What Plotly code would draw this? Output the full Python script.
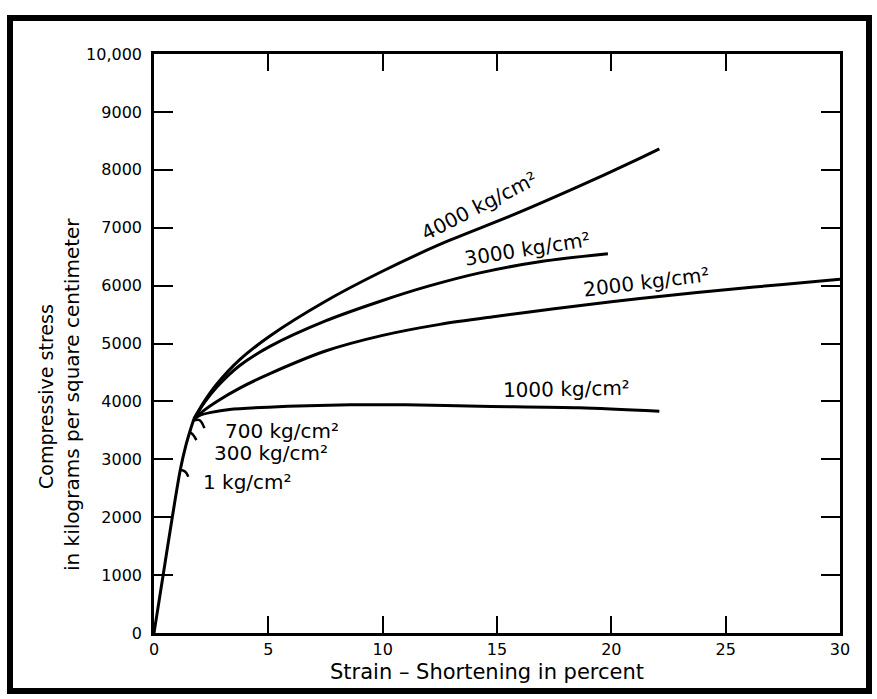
import plotly.graph_objects as go

# ---------------- data ----------------
# common elastic part (strain %, stress kg/cm2)
elastic_x = [0, 0.4, 0.8, 1.15, 1.4, 1.6, 1.75]
elastic_y = [0, 1000, 2000, 2820, 3250, 3520, 3700]

c4000_x = [1.75, 2.2, 2.75, 3.75, 5.07, 7.5, 9.9, 12.5, 15.7, 18.5, 21.1, 22.1]
c4000_y = [3700, 4000, 4300, 4720, 5130, 5730, 6230, 6710, 7220, 7700, 8170, 8360]

c3000_x = [1.75, 2.2, 2.75, 3.75, 5.07, 7.5, 9.9, 12.0, 14.25, 17.0, 19.85]
c3000_y = [3700, 3980, 4250, 4620, 4950, 5390, 5730, 5990, 6220, 6420, 6550]

c2000_x = [1.75, 2.2, 2.75, 3.75, 5.07, 7.5, 10.0, 12.5, 15.0, 17.5, 20.0, 22.5, 25.0, 27.5, 30.0]
c2000_y = [3700, 3850, 4000, 4230, 4480, 4870, 5140, 5330, 5470, 5600, 5720, 5830, 5930, 6020, 6110]

c1000_x = [1.75, 2.0, 2.5, 3.3, 5.0, 8.6, 11.0, 14.25, 18.6, 22.1]
c1000_y = [3700, 3760, 3810, 3860, 3900, 3940, 3940, 3915, 3890, 3830]

# failure points of the low-pressure tests (1, 300, 700 kg/cm2)
fail_x = [1.15, 1.55, 1.68]
fail_y = [2820, 3470, 3660]

curve_labels = ["4000 kg/cm²", "3000 kg/cm²", "2000 kg/cm²", "1000 kg/cm²",
                "700 kg/cm²", "300 kg/cm²", "1 kg/cm²"]

x_ticks = [0, 5, 10, 15, 20, 25, 30]
y_ticks = [0, 1000, 2000, 3000, 4000, 5000, 6000, 7000, 8000, 9000, 10000]
y_tick_text = ["0", "1000", "2000", "3000", "4000", "5000", "6000", "7000",
               "8000", "9000", "10,000"]

x_title = "Strain – Shortening in percent"
y_title_1 = "Compressive stress"
y_title_2 = "in kilograms per square centimeter"

# ---------------- layout geometry ----------------
W, H = 877, 699
L, R, T, B = 154, 37, 54, 66
PW, PH = W - L - R, H - T - B
FONT = "DejaVu Sans"


def px(xpix):
    return (xpix - L) / PW


def py(ypix):
    return (H - B - ypix) / PH


fig = go.Figure()
line_style = dict(color="black", width=3, shape="spline", smoothing=0.8)
for xs, ys in [(elastic_x, elastic_y), (c4000_x, c4000_y), (c3000_x, c3000_y),
               (c2000_x, c2000_y), (c1000_x, c1000_y)]:
    fig.add_trace(go.Scatter(x=xs, y=ys, mode="lines", line=line_style,
                             hoverinfo="skip", showlegend=False))

# small arc marks at the failure points
xscale = 30 / PW
yscale = 10000 / PH
arc_offsets = [[(0, 0), (5, -2), (8, -7)],
               [(0, 0), (3, -2), (7, -8)],
               [(0, 0), (7, 1), (12, -7)]]
for fx, fy, offs in zip(fail_x, fail_y, arc_offsets):
    fig.add_trace(go.Scatter(
        x=[fx + dx * xscale for dx, dy in offs],
        y=[fy + dy * yscale for dx, dy in offs],
        mode="lines", line=dict(color="black", width=2.5, shape="spline"),
        hoverinfo="skip", showlegend=False))

# curve labels: (center px x, center px y, angle)
label_pos = [(479, 206, -27), (527, 249, -9), (646, 282, -7), (566, 389, -1),
             (282, 431, 0), (271, 453, 0), (247, 482, 0)]
for text, (cx, cy, ang) in zip(curve_labels, label_pos):
    fig.add_annotation(x=px(cx), y=py(cy), xref="paper", yref="paper",
                       xanchor="center", yanchor="middle",
                       text=text, showarrow=False, textangle=ang,
                       font=dict(family=FONT, size=20, color="black"))

# axis titles
fig.add_annotation(x=px(487), y=py(672), xref="paper", yref="paper",
                   xanchor="center", yanchor="middle",
                   text=x_title, showarrow=False,
                   font=dict(family=FONT, size=21, color="black"))
fig.add_annotation(x=px(46), y=py(396), xref="paper", yref="paper",
                   xanchor="center", yanchor="middle",
                   text=y_title_1, showarrow=False, textangle=-90,
                   font=dict(family=FONT, size=19, color="black"))
fig.add_annotation(x=px(72), y=py(395), xref="paper", yref="paper",
                   xanchor="center", yanchor="middle",
                   text=y_title_2, showarrow=False, textangle=-90,
                   font=dict(family=FONT, size=20, color="black"))

# outer black frame
fig.add_shape(type="rect", xref="paper", yref="paper",
              x0=px(10), x1=px(869), y0=py(691), y1=py(18),
              line=dict(color="black", width=6), layer="above")

axis_common = dict(showline=True, linecolor="black", linewidth=2.5,
                   mirror="allticks", ticks="inside", tickcolor="black",
                   tickwidth=1.5, showgrid=False, zeroline=False,
                   tickfont=dict(family=FONT, size=16, color="black"))

fig.update_xaxes(range=[0, 30], tickvals=x_ticks, ticklen=17,
                 ticklabelstandoff=0, **axis_common)
fig.update_yaxes(range=[0, 10000], tickvals=y_ticks, ticktext=y_tick_text,
                 ticklen=19, ticklabelstandoff=6, **axis_common)

fig.update_layout(width=W, height=H, margin=dict(l=L, r=R, t=T, b=B),
                  plot_bgcolor="white", paper_bgcolor="white",
                  showlegend=False)

fig.write_html("out.html", config={"displayModeBar": False},
               post_script="document.body.style.margin='0';")
